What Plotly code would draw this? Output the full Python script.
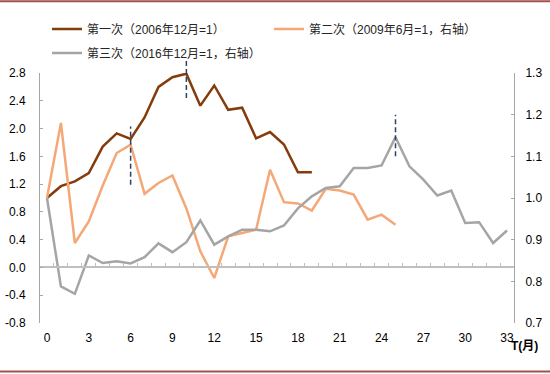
import plotly.graph_objects as go

# ---------------- data ----------------
months = list(range(34))
x_tick_vals = months[::3]
x_tick_text = [str(m) for m in x_tick_vals]

first_name = "第一次（2006年12月=1）"
second_name = "第二次（2009年6月=1，右轴）"
third_name = "第三次（2016年12月=1，右轴）"

first_vals = [1.00, 1.17, 1.24, 1.36, 1.74, 1.93, 1.85, 2.16, 2.60, 2.74,
              2.79, 2.33, 2.62, 2.27, 2.30, 1.86, 1.95, 1.77, 1.37, 1.37]
second_vals = [1.000, 1.180, 0.892, 0.944, 1.030, 1.108, 1.128, 1.010, 1.036, 1.054,
               0.975, 0.872, 0.808, 0.908, 0.916, 0.924, 1.068, 0.990, 0.987, 0.970,
               1.022, 1.018, 1.008, 0.948, 0.960, 0.936]
third_vals = [1.000, 0.788, 0.770, 0.862, 0.844, 0.848, 0.843, 0.858, 0.891, 0.870,
              0.894, 0.946, 0.888, 0.908, 0.924, 0.924, 0.920, 0.934, 0.975, 1.004,
              1.024, 1.028, 1.072, 1.072, 1.078, 1.146, 1.076, 1.044, 1.006, 1.018,
              0.940, 0.942, 0.892, 0.922]

left_tick_vals = [-0.8, -0.4, 0.0, 0.4, 0.8, 1.2, 1.6, 2.0, 2.4, 2.8]
left_tick_text = ["-0.8", "-0.4", "0.0", "0.4", "0.8", "1.2", "1.6", "2.0", "2.4", "2.8"]
right_tick_vals = [0.7, 0.8, 0.9, 1.0, 1.1, 1.2, 1.3]
right_tick_text = ["0.7", "0.8", "0.9", "1.0", "1.1", "1.2", "1.3"]

left_range = [-0.8, 2.8]
right_range = [0.7, 1.3]

# dashed marker lines (month, top value, bottom value, axis)
dash_months = [6, 10, 25]
dash_top = [2.03, 3.02, 1.20]
dash_bottom = [1.19, 2.44, 1.10]
dash_axis = ["y", "y", "y2"]

x_label = "T(月)"

# ---------------- styles ----------------
C_BROWN = "#843C0C"
C_ORANGE = "#F5A877"
C_GREY = "#A5A5A5"
C_AXIS = "#A6A6A6"
C_ZERO = "#BFBFBF"
C_DASH = "#2E4163"
C_BORDER = "#A0504F"
FONT = "Liberation Sans, Arial, Noto Sans CJK SC, sans-serif"

fig = go.Figure()
fig.add_trace(go.Scatter(x=months[:len(first_vals)], y=first_vals, name=first_name,
                         mode="lines", line=dict(color=C_BROWN, width=2.5),
                         yaxis="y", legend="legend"))
fig.add_trace(go.Scatter(x=months[:len(second_vals)], y=second_vals, name=second_name,
                         mode="lines", line=dict(color=C_ORANGE, width=2.5),
                         yaxis="y2", legend="legend"))
fig.add_trace(go.Scatter(x=months[:len(third_vals)], y=third_vals, name=third_name,
                         mode="lines", line=dict(color=C_GREY, width=2.5),
                         yaxis="y2", legend="legend2"))
# helper (empty) trace so the zero-line category axis is drawn
fig.add_trace(go.Scatter(x=[], y=[], xaxis="x2", yaxis="y", showlegend=False,
                         hoverinfo="skip"))

# dashed vertical markers
for m, top, bot, ax in zip(dash_months, dash_top, dash_bottom, dash_axis):
    lo, hi = left_range if ax == "y" else right_range
    fig.add_shape(type="line", xref="x", yref="paper",
                  x0=m, x1=m,
                  y0=(bot - lo) / (hi - lo), y1=(top - lo) / (hi - lo),
                  line=dict(color=C_DASH, width=1.5, dash="5px,3px"))

W, H = 550, 374
ML, MR, MT, MB = 40, 36, 73, 51
PW, PH = W - ML - MR, H - MT - MB

# top / bottom border lines
for ypix in [1.3, 371.5]:
    yp = (H - MB - ypix) / PH
    fig.add_shape(type="line", xref="paper", yref="paper",
                  x0=-ML / PW, x1=(W - ML) / PW, y0=yp, y1=yp,
                  line=dict(color=C_BORDER, width=2))

fig.add_annotation(text=x_label, xref="paper", yref="paper",
                   x=(509 - ML) / PW, y=(H - MB - 346) / PH,
                   xanchor="left", yanchor="middle", showarrow=False,
                   font=dict(family=FONT, size=12, color="#000000", weight="bold"))

legend_common = dict(orientation="h", xanchor="left", yanchor="middle",
                     entrywidth=177, entrywidthmode="pixels",
                     font=dict(family=FONT, size=12, color="#262626"),
                     bgcolor="rgba(0,0,0,0)", itemwidth=30, tracegroupgap=0)

fig.update_layout(
    width=W, height=H,
    margin=dict(l=ML, r=MR, t=MT, b=MB, autoexpand=False),
    plot_bgcolor="white", paper_bgcolor="white",
    font=dict(family=FONT, size=12, color="#000000"),
    showlegend=True,
    legend=dict(x=(47 - ML) / PW, y=1 + (MT - 29) / PH, **legend_common),
    legend2=dict(x=(47 - ML) / PW, y=1 + (MT - 53) / PH, **legend_common),
    xaxis=dict(range=[-0.5, 33.5], tickvals=x_tick_vals, ticktext=x_tick_text,
               showline=False, ticks="", showgrid=False, zeroline=False,
               ticklabelstandoff=6, tickfont=dict(size=12, color="#000000")),
    xaxis2=dict(overlaying="x", anchor="free",
                position=(0 - left_range[0]) / (left_range[1] - left_range[0]),
                range=[-0.5, 33.5], showline=True, linecolor=C_ZERO, linewidth=1.5,
                ticks="inside", ticklen=4, tickcolor=C_ZERO, tickwidth=1,
                tickvals=[m - 0.5 for m in months] + [months[-1] + 0.5],
                showticklabels=False, showgrid=False, zeroline=False),
    yaxis=dict(range=left_range, tickvals=left_tick_vals, ticktext=left_tick_text,
               showline=True, linecolor=C_AXIS, linewidth=1, ticks="inside",
               ticklen=3, tickcolor=C_AXIS, showgrid=False, zeroline=False,
               ticklabelstandoff=11, tickfont=dict(size=12, color="#000000")),
    yaxis2=dict(range=right_range, tickvals=right_tick_vals, ticktext=right_tick_text,
                overlaying="y", side="right", anchor="x",
                showline=True, linecolor=C_AXIS, linewidth=1, ticks="inside",
                ticklen=3, tickcolor=C_AXIS, showgrid=False, zeroline=False,
                ticklabelstandoff=8, tickfont=dict(size=12, color="#000000")),
)

fig.write_html("out.html",
               config={"displayModeBar": False},
               post_script="document.body.style.margin='0';document.body.style.padding='0';")
